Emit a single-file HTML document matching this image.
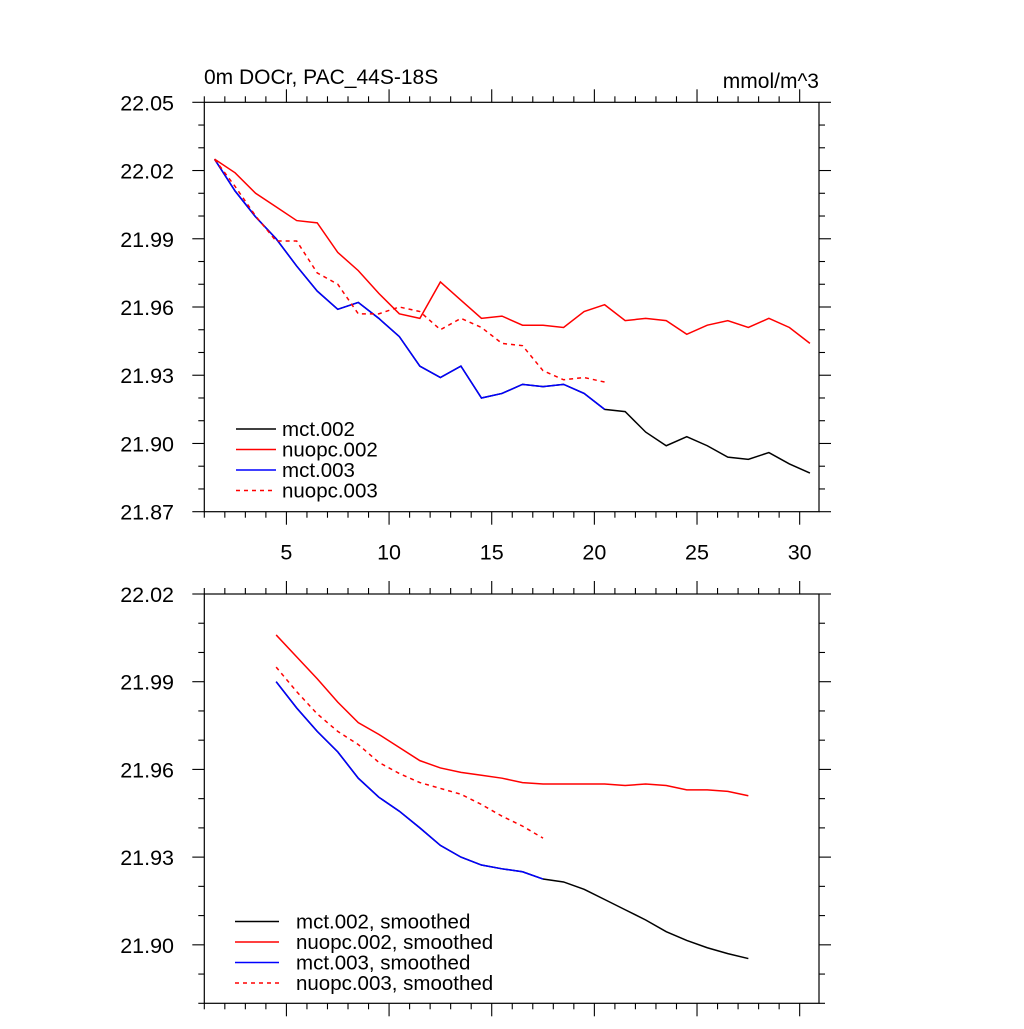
<!DOCTYPE html>
<html><head><meta charset="utf-8"><style>
body{margin:0;background:#fff}
svg text{font-family:"Liberation Sans",sans-serif;fill:#000}
</style></head><body>
<svg id="c" width="1024" height="1024" xmlns="http://www.w3.org/2000/svg"></svg>
<script>
const xTop=[1.5,2.5,3.5,4.5,5.5,6.5,7.5,8.5,9.5,10.5,11.5,12.5,13.5,14.5,15.5,16.5,17.5,18.5,19.5,20.5,21.5,22.5,23.5,24.5,25.5,26.5,27.5,28.5,29.5,30.5];
const mct002=[22.025,22.011,21.9996,21.990,21.978,21.967,21.959,21.962,21.955,21.947,21.934,21.929,21.934,21.920,21.922,21.926,21.925,21.926,21.922,21.915,21.914,21.905,21.899,21.903,21.899,21.894,21.893,21.896,21.891,21.887];
const nuopc002=[22.025,22.019,22.010,22.004,21.998,21.997,21.984,21.976,21.966,21.957,21.955,21.971,21.963,21.955,21.956,21.952,21.952,21.951,21.958,21.961,21.954,21.955,21.954,21.948,21.952,21.954,21.951,21.955,21.951,21.944];
const mct003=mct002.slice(0,20);
const nuopc003=[22.025,22.013,22.000,21.989,21.989,21.975,21.970,21.957,21.957,21.960,21.958,21.950,21.955,21.951,21.944,21.943,21.932,21.928,21.929,21.927];
const xBot=[4.5,5.5,6.5,7.5,8.5,9.5,10.5,11.5,12.5,13.5,14.5,15.5,16.5,17.5,18.5,19.5,20.5,21.5,22.5,23.5,24.5,25.5,26.5,27.5];
const mct002s=[21.990,21.981,21.973,21.966,21.957,21.9505,21.9457,21.940,21.934,21.930,21.9273,21.926,21.925,21.9225,21.9215,21.919,21.9155,21.912,21.9085,21.9045,21.9015,21.899,21.897,21.8953];
const nuopc002s=[22.006,21.9985,21.991,21.983,21.976,21.972,21.9675,21.963,21.9605,21.959,21.958,21.957,21.9555,21.955,21.955,21.955,21.955,21.9545,21.955,21.9545,21.953,21.953,21.9525,21.951];
const mct003s=mct002s.slice(0,14);
const nuopc003s=[21.995,21.9866,21.979,21.973,21.9685,21.9624,21.9586,21.9555,21.9535,21.9515,21.948,21.944,21.9406,21.9365];
const xTickLabels=["5","10","15","20","25","30"];
const yTopLabels=["21.87","21.90","21.93","21.96","21.99","22.02","22.05"];
const yBotLabels=["21.90","21.93","21.96","21.99","22.02"];

const svg=document.getElementById('c');
const NS="http://www.w3.org/2000/svg";
function mk(tag,attrs,parent){const e=document.createElementNS(NS,tag);for(const k in attrs)e.setAttribute(k,attrs[k]);(parent||svg).appendChild(e);return e;}
const L=204.3,R=819,SX=20.53;
const xs=v=>L+(v-1)*SX;

function panel(name,top,bot,ymin,ymax,yLabels,showX){
  const g=mk('g',{});
  
  
  const ys=v=>bot-(v-ymin)/(ymax-ymin)*(bot-top);
  const fr=mk('rect',{x:L,y:top,width:R-L,height:bot-top,fill:'none',stroke:'#000','stroke-width':1.2},g);
  
  
  for(let v=1;v<=31;v++){
    const x=xs(v); if(x>R+0.5)break;
    const maj=v%5===0, len=maj?13:6;
    mk('line',{x1:x,x2:x,y1:top,y2:top-len,stroke:'#000','stroke-width':1.1},g);
    mk('line',{x1:x,x2:x,y1:bot,y2:bot+len,stroke:'#000','stroke-width':1.1},g);
  }
  if(showX){
    xTickLabels.forEach(s=>{const t=mk('text',{x:xs(+s),y:bot+48,'font-size':21.5,'text-anchor':'middle'},g);t.textContent=s;
      
      });
  }
  const n=Math.round((ymax-ymin)/0.01);
  for(let i=0;i<=n;i++){
    const v=ymin+i*0.01,y=ys(v),maj=i%3===(showX?0:2)%3, len=maj?12:6;
    mk('line',{x1:L,x2:L-len,y1:y,y2:y,stroke:'#000','stroke-width':1.1},g);
    mk('line',{x1:R,x2:R+len,y1:y,y2:y,stroke:'#000','stroke-width':1.1},g);
  }
  yLabels.forEach(s=>{const t=mk('text',{x:174,y:ys(+s)+8,'font-size':21.5,'text-anchor':'end'},g);t.textContent=s;
    
    });
  return ys;
}
function series(name,xsA,ysA,ys,color,dash){
  const p=mk('polyline',{points:xsA.map((x,i)=>xs(x)+','+ys(ysA[i])).join(' '),fill:'none',stroke:color,'stroke-width':1.5,'stroke-dasharray':dash?'4,4':'none'});
  
  
}
function legend(items,y0,dy,fs,lx1,lx2,tx){
  items.forEach((it,i)=>{
    const y=y0+i*dy;
    const l=mk('line',{x1:lx1,x2:lx2,y1:y,y2:y,stroke:it[1],'stroke-width':1.5,'stroke-dasharray':it[2]?'4,4':'none'});
    
    
    const t=mk('text',{x:tx,y:y+7,'font-size':fs});t.textContent=it[0];
    
    
  });
}
const ysT=panel('top-panel',102.3,511.7,21.87,22.05,yTopLabels,true);
series('line-mct002',xTop,mct002,ysT,'#000',false);
series('line-nuopc002',xTop,nuopc002,ysT,'#f00',false);
series('line-mct003',xTop.slice(0,20),mct003,ysT,'#00f',false);
series('line-nuopc003',xTop.slice(0,20),nuopc003,ysT,'#f00',true);
legend([['mct.002','#000'],['nuopc.002','#f00'],['mct.003','#00f'],['nuopc.003','#f00',1]],429,20.5,20.5,236,276,282);

const ysB=panel('bottom-panel',594,1003.3,21.88,22.02,yBotLabels,false);
series('line-mct002-smoothed',xBot,mct002s,ysB,'#000',false);
series('line-nuopc002-smoothed',xBot,nuopc002s,ysB,'#f00',false);
series('line-mct003-smoothed',xBot.slice(0,14),mct003s,ysB,'#00f',false);
series('line-nuopc003-smoothed',xBot.slice(0,14),nuopc003s,ysB,'#f00',true);
legend([['mct.002, smoothed','#000'],['nuopc.002, smoothed','#f00'],['mct.003, smoothed','#00f'],['nuopc.003, smoothed','#f00',1]],921.5,20.5,20.5,235,279,296);

const t1=mk('text',{x:204,y:84,'font-size':21});t1.textContent='0m DOCr, PAC_44S-18S';


const t2=mk('text',{x:819,y:88,'font-size':21,'text-anchor':'end'});t2.textContent='mmol/m^3';


</script>
</body></html>
